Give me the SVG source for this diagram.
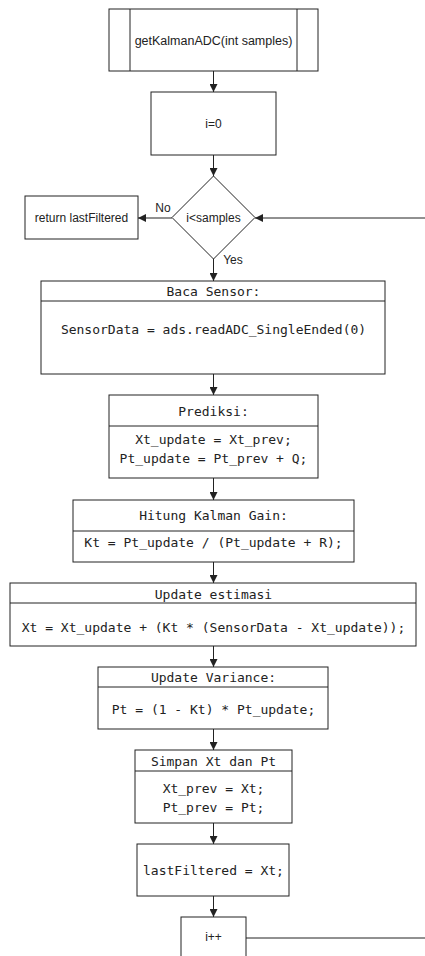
<svg xmlns="http://www.w3.org/2000/svg" width="425" height="956" viewBox="0 0 425 956">
<style>
.box{fill:#fff;stroke:#222;stroke-width:1}
.ln{fill:none;stroke:#222;stroke-width:1}
.sans{font-family:"Liberation Sans",Arial,sans-serif;font-size:12px;fill:#222}
.mono{font-family:"DejaVu Sans Mono","Liberation Mono",monospace;font-size:13px;fill:#222}
.c{text-anchor:middle;dominant-baseline:central}
.edge{fill:none;stroke:#222;stroke-width:1;marker-end:url(#ah)}
</style>
<defs>
<marker id="ah" viewBox="0 0 10 10" refX="10" refY="5" markerWidth="8" markerHeight="8" markerUnits="userSpaceOnUse" orient="auto">
<path d="M0,0 L10,5 L0,10 z" fill="#222"/>
</marker>
</defs>
<rect width="425" height="956" fill="#fff"/>
<g id="connectors">
<path class="edge" d="M213.5,71 V92"/>
<path class="edge" d="M213.5,155 V176"/>
<path class="edge" d="M172,218 H138"/>
<path class="edge" d="M425,218 H255"/>
<path class="edge" d="M213.5,259 V281"/>
<path class="edge" d="M213.5,374 V395"/>
<path class="edge" d="M213.5,478 V500"/>
<path class="edge" d="M213.5,562 V583"/>
<path class="edge" d="M213.5,646 V667"/>
<path class="edge" d="M213.5,729 V750"/>
<path class="edge" d="M213.5,823 V844"/>
<path class="edge" d="M213.5,896 V917"/>
<path class="ln" d="M246,938 H425"/>
<text class="sans c" x="163" y="208">No</text>
<text class="sans c" x="233" y="260">Yes</text>
</g>
<g id="start">
<rect class="box" x="109" y="9" width="209" height="62"/>
<path class="ln" d="M130,9 V71 M297,9 V71"/>
<text class="sans c" x="213.5" y="41" style="font-size:12.5px">getKalmanADC(int samples)</text>
</g>
<g id="init">
<rect class="box" x="151" y="92" width="125" height="63"/>
<text class="sans c" x="213.5" y="124">i=0</text>
</g>
<g id="decision">
<path class="box" d="M213.5,176 L255,217.5 L213.5,259 L172,217.5 z"/>
<text class="sans c" x="213.5" y="218">i&lt;samples</text>
</g>
<g id="return">
<rect class="box" x="25" y="196" width="113" height="43"/>
<text class="sans c" x="81.5" y="218">return lastFiltered</text>
</g>
<g id="baca">
<rect class="box" x="41" y="281" width="344" height="93"/>
<path class="ln" d="M41,301 H385"/>
<text class="mono c" x="213.5" y="291">Baca Sensor:</text>
<text class="mono c" x="213.5" y="329">SensorData = ads.readADC_SingleEnded(0)</text>
</g>
<g id="prediksi">
<rect class="box" x="109" y="395" width="209" height="83"/>
<path class="ln" d="M109,426 H318"/>
<text class="mono c" x="213.5" y="411">Prediksi:</text>
<text class="mono c" x="213.5" y="439">Xt_update = Xt_prev;</text>
<text class="mono c" x="213.5" y="458">Pt_update = Pt_prev + Q;</text>
</g>
<g id="hitung">
<rect class="box" x="73" y="500" width="281" height="62"/>
<path class="ln" d="M73,531 H354"/>
<text class="mono c" x="213.5" y="515">Hitung Kalman Gain:</text>
<text class="mono c" x="213.5" y="542">Kt = Pt_update / (Pt_update + R);</text>
</g>
<g id="estimasi">
<rect class="box" x="10" y="583" width="406" height="63"/>
<path class="ln" d="M10,603 H416"/>
<text class="mono c" x="213.5" y="594">Update estimasi</text>
<text class="mono c" x="213.5" y="627">Xt = Xt_update + (Kt * (SensorData - Xt_update));</text>
</g>
<g id="variance">
<rect class="box" x="98" y="667" width="230" height="62"/>
<path class="ln" d="M98,687 H328"/>
<text class="mono c" x="213.5" y="677">Update Variance:</text>
<text class="mono c" x="213.5" y="709">Pt = (1 - Kt) * Pt_update;</text>
</g>
<g id="simpan">
<rect class="box" x="135" y="750" width="157" height="73"/>
<path class="ln" d="M135,771 H292"/>
<text class="mono c" x="213.5" y="761">Simpan Xt dan Pt</text>
<text class="mono c" x="213.5" y="788">Xt_prev = Xt;</text>
<text class="mono c" x="213.5" y="807">Pt_prev = Pt;</text>
</g>
<g id="lastfiltered">
<rect class="box" x="137" y="844" width="152" height="52"/>
<text class="mono c" x="213.5" y="870">lastFiltered = Xt;</text>
</g>
<g id="increment">
<rect class="box" x="181" y="917" width="65" height="60"/>
<text class="sans c" x="213.5" y="937">i++</text>
</g>
</svg>
